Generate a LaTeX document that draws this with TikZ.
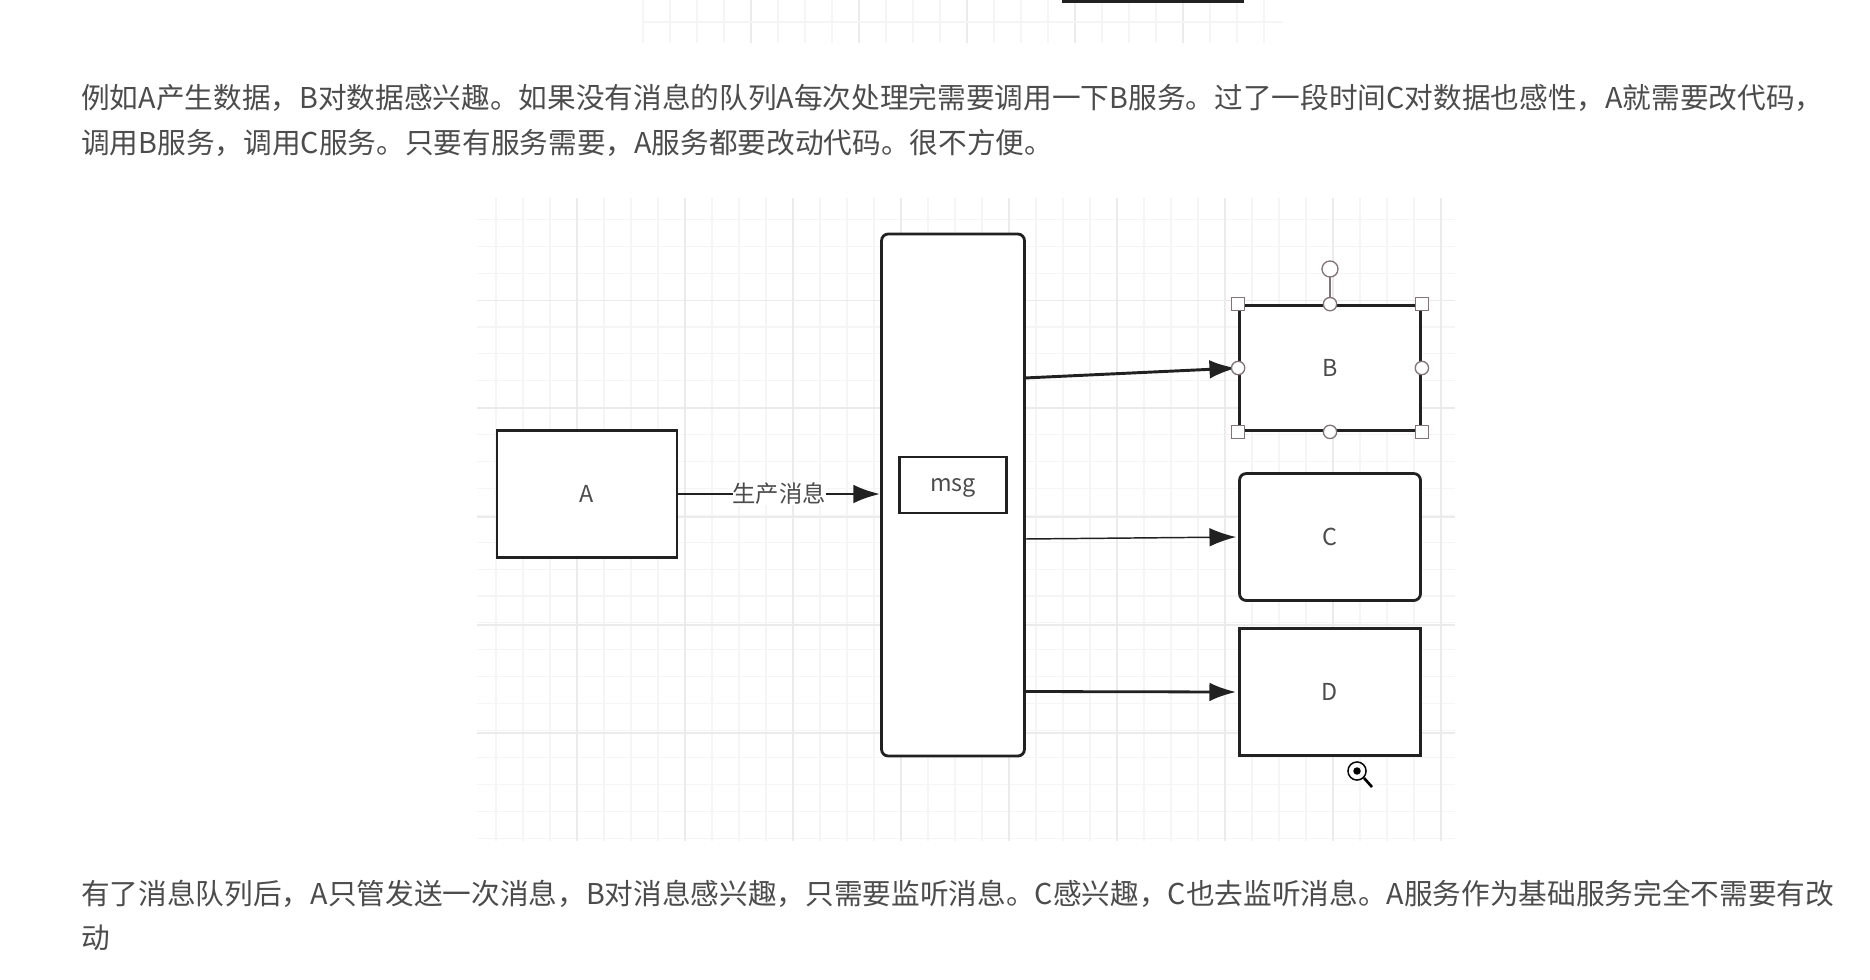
\documentclass[tikz,border=0pt]{standalone}
\usepackage{fontspec}
\setmainfont{Noto Sans CJK SC}
\usetikzlibrary{arrows.meta}
\definecolor{gridminor}{gray}{0.96}
\definecolor{gridmajor}{gray}{0.92}
\definecolor{ink}{gray}{0.13}
\definecolor{bodytext}{gray}{0.30}
\definecolor{handle}{RGB}{130,115,118}
\tikzset{
  x=0.75pt,y=-0.75pt,
  para/.style={anchor=west,inner sep=0pt,font=\fontsize{21.5pt}{24pt}\selectfont,text=bodytext},
  boxshape/.style={draw=ink,fill=white,line width=2.1pt,inner sep=0pt,font=\fontsize{17.5pt}{20pt}\selectfont,text=bodytext},
  flow/.style={draw=ink,line width=#1,shorten >=1.5pt,-{Latex[length=20pt,width=14pt]}},
  sqh/.style={draw=handle,fill=white,line width=1pt,minimum size=10pt,inner sep=0pt},
  roh/.style={draw=handle,fill=white,line width=1pt,circle,minimum size=10pt,inner sep=0pt}
}
\begin{document}
\begin{tikzpicture}
\useasboundingbox (0,0) rectangle (1870,979);
\fill[white] (0,0) rectangle (1870,979);
% lower grid
\foreach \i in {1,...,36}{
  \draw[gridminor,line width=0.8pt] ({469+27*\i},198) -- ({469+27*\i},841);}
\foreach \i in {1,...,24}{
  \draw[gridminor,line width=0.8pt] (477,{192.5+26.9*\i}) -- (1455,{192.5+26.9*\i});}
\foreach \xx in {577,685,793,901,1009,1117,1225,1333,1441}{
  \draw[gridmajor,line width=0.8pt] (\xx,198) -- (\xx,841);}
\foreach \yy in {300.5,408,517,625,733}{
  \draw[gridmajor,line width=0.8pt] (477,\yy) -- (1455,\yy);}
% top grid fragment
\foreach \i in {0,...,23}{
  \draw[gridminor,line width=0.8pt] ({643+27*\i},0) -- ({643+27*\i},43);}
\foreach \xx in {751,859,967,1075,1183}{
  \draw[gridmajor,line width=0.8pt] (\xx,0) -- (\xx,43);}
\draw[gridminor,line width=0.8pt] (642,22) -- (1283,22);
\fill[ink] (1062,0) rectangle (1244,3);
% boxes (sizes in px, 1px = 0.75pt)
\node[boxshape,minimum width=135pt,minimum height=95.6pt] (a) at (587,494) {A};
\node[boxshape,minimum width=107.2pt,minimum height=391.5pt,rounded corners=5pt] (q) at (953,495) {};
\node[boxshape,minimum width=80.2pt,minimum height=42pt,text height=12pt,text depth=2pt] (msg) at (953,485) {msg};
\node[boxshape,minimum width=135.7pt,minimum height=93.7pt] (b) at (1330,368) {B};
\node[boxshape,minimum width=135.7pt,minimum height=95.2pt,rounded corners=5pt] (c) at (1330,537) {C};
\node[boxshape,minimum width=135.7pt,minimum height=95.2pt] (d) at (1330,692) {D};
% connectors
\draw[flow=2.1pt,shorten >=0pt] (a.east) -- node[fill=white,inner sep=0pt,font=\fontsize{17.5pt}{20pt}\selectfont,text=bodytext,pos=0.5,text height=15pt,text depth=1.8pt] (lbl) {生产消息} (q.west |- a.east);
\coordinate (qb) at (1024.5,378);
\draw[flow=2.2pt] (qb) -- (b.west);
\coordinate (qc) at (1024.5,539);
\draw[flow=1.1pt] (qc) -- (c.west);
\coordinate (qd) at (1024.5,691.5);
\draw[flow=2.1pt] (qd) -- (d.west);
% selection handles
\coordinate (rot) at (1330,269);
\draw[handle,line width=1pt] (rot) -- (b.north);
\node[roh,minimum size=12pt] (r0) at (rot) {};
\node[sqh] (h1) at (b.north west) {};
\node[sqh] (h2) at (b.north east) {};
\node[sqh] (h3) at (b.south west) {};
\node[sqh] (h4) at (b.south east) {};
\node[roh] (h5) at (b.north) {};
\node[roh] (h6) at (b.south) {};
\node[roh] (h7) at (b.west) {};
\node[roh] (h8) at (b.east) {};
% text
\node[para] (t1) at (81,98) {例如A产生数据，B对数据感兴趣。如果没有消息的队列A每次处理完需要调用一下B服务。过了一段时间C对数据也感性，A就需要改代码，};
\node[para] (t2) at (81,143) {调用B服务，调用C服务。只要有服务需要，A服务都要改动代码。很不方便。};
\node[para] (t3) at (81,894) {有了消息队列后，A只管发送一次消息，B对消息感兴趣，只需要监听消息。C感兴趣，C也去监听消息。A服务作为基础服务完全不需要有改};
\node[para] (t4) at (81,938) {动};
% magnifier cursor
\draw[black,line width=1.1pt] (1357,771) circle (6.8pt);
\fill[black] (1357,771) circle (2.8pt);
\draw[black,line width=2pt] (1364,778) -- (1372,787);
\end{tikzpicture}
\end{document}
